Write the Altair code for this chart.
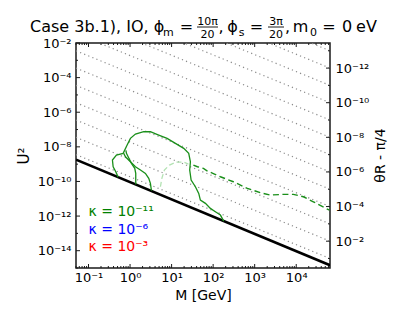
import altair as alt
import pandas as pd

# ---------------- data ----------------
x_tick_values = [1e-1, 1e0, 1e1, 1e2, 1e3, 1e4]
u2_tick_values = [1e-14, 1e-12, 1e-10, 1e-8, 1e-6, 1e-4, 1e-2]
u2_minor_values = [1e-15, 1e-13, 1e-11, 1e-9, 1e-7, 1e-5, 1e-3]
theta_tick_values = [1e-12, 1e-10, 1e-8, 1e-6, 1e-4, 1e-2]
theta_minor_values = [1e-13, 1e-11, 1e-9, 1e-7, 1e-5, 1e-3, 1e-1]

M_RANGE = [0.05, 6.5e4]
U2_RANGE = [1e-15, 1e-2]
THETA_RANGE = [10 ** -13.45, 10 ** -0.45]

# black seesaw line (log10 U^2 at the two ends of the M range)
seesaw_logM = [-1.301, 4.813]
seesaw_logU2 = [-8.74, -14.84]

# dotted lines of constant theta: log10 U^2 at left and right edge
dotted_left_exp = [3.55, 2.55, 1.55, 0.55, -0.45, -1.45, -2.45, -3.45, -4.45,
                   -5.45, -6.45, -7.45, -8.45]
dotted_right_exp = [-2.45, -3.45, -4.45, -5.45, -6.45, -7.45, -8.45, -9.45,
                    -10.45, -11.45, -12.45, -13.45, -14.45]

# kappa = 1e-11 contour, solid pieces (log10 M, log10 U^2)
outer_logM = [-0.287, -0.344, -0.407, -0.424, -0.328, -0.166, -0.070, 0.009, 0.130,
              0.329, 0.490, 0.690, 0.892, 1.092, 1.292, 1.412, 1.453, 1.436, 1.470,
              1.573, 1.653, 1.693, 1.814, 1.934, 2.054, 2.175, 2.254]
outer_logU2 = [-9.75, -9.439, -9.150, -8.763, -8.474, -8.376, -7.896, -7.509, -7.260,
               -7.127, -7.127, -7.318, -7.509, -7.798, -8.087, -8.376, -8.861, -9.341,
               -9.919, -10.306, -10.688, -11.075, -11.266, -11.555, -11.751, -11.942,
               -12.29]
innerB_logM = [-0.10, -0.087, -0.046, 0.033, 0.113, 0.137, 0.137, 0.14]
innerB_logU2 = [-8.2, -8.376, -8.572, -8.954, -9.243, -9.532, -10.017, -10.17]
innerC_logM = [-0.152, -0.111, 0.009, 0.130, 0.250, 0.370, 0.450, 0.490, 0.507, 0.52]
innerC_logU2 = [-8.376, -8.572, -8.861, -9.150, -9.341, -9.532, -9.821, -10.110,
                -10.399, -10.53]
# light dashed arc
arc_logM = [0.731, 0.767, 0.827, 0.948, 1.116, 1.284, 1.405]
arc_logU2 = [-10.306, -9.803, -9.341, -9.052, -8.878, -8.878, -8.994]
# dark dashed branch
dash_logM = [1.525, 1.621, 1.766, 1.862, 2.006, 2.175, 2.487, 2.824, 3.137, 3.378,
             3.690, 3.931, 4.172, 4.412, 4.80]
dash_logU2 = [-9.052, -9.150, -9.243, -9.398, -9.543, -9.728, -10.017, -10.399,
              -10.653, -10.786, -10.745, -10.745, -10.884, -11.173, -11.66]

legend_texts = ["κ = 10⁻¹¹", "κ = 10⁻⁶", "κ = 10⁻³"]
legend_colors = ["#008000", "#0000ff", "#ff0000"]

# ---------------- layout ----------------
W, H = 254, 225
FONT = "DejaVu Sans"
FRAME = "#1a1a1a"


def path_df(logM, logU2, seg=0):
    return pd.DataFrame({"M": [10 ** v for v in logM],
                         "U2": [10 ** v for v in logU2],
                         "o": list(range(len(logM))),
                         "seg": seg})


sup = {"-": "⁻", "−": "⁻", "0": "⁰", "1": "¹", "2": "²", "3": "³", "4": "⁴",
       "5": "⁵", "6": "⁶", "7": "⁷", "8": "⁸", "9": "⁹"}
e = "toString(round(log(datum.value)/LN10))"
for k, v in sup.items():
    e = f"replace({e}, regexp('{k}', 'g'), '{v}')"
LABEL_EXPR = "'10' + " + e

xs = alt.Scale(type="log", domain=M_RANGE, nice=False)
ys = alt.Scale(type="log", domain=U2_RANGE, nice=False)
ts = alt.Scale(type="log", domain=THETA_RANGE, nice=False, reverse=True)

xaxis = alt.Axis(values=x_tick_values, labelExpr=LABEL_EXPR, title="M [GeV]",
                 labelFontSize=13, titleFontSize=14, labelPadding=3, titlePadding=4,
                 ticks=False, domain=False, grid=False)
yaxis = alt.Axis(values=u2_tick_values, labelExpr=LABEL_EXPR, title="U²",
                 labelFontSize=13, titleFontSize=15, labelPadding=5, titlePadding=6,
                 ticks=False, domain=False, grid=False)
taxis = alt.Axis(values=theta_tick_values, labelExpr=LABEL_EXPR, title="θR - π/4",
                 orient="right", labelFontSize=13, titleFontSize=14, labelPadding=5,
                 titleAngle=270, titleX=50, titleY=112, titleAlign="center",
                 titleBaseline="middle", ticks=False, domain=False, grid=False)


def X():
    return alt.X("M:Q", scale=xs, axis=xaxis)


def Y():
    return alt.Y("U2:Q", scale=ys, axis=yaxis)


layers = []

# dotted constant-theta lines
dot_rows = []
for i, (a, b) in enumerate(zip(dotted_left_exp, dotted_right_exp)):
    dot_rows.append(path_df([-1.301, 4.813], [a, b], seg=i))
dots = pd.concat(dot_rows, ignore_index=True)
layers.append(alt.Chart(dots).mark_line(color="#8c8c8c", strokeWidth=1.2,
                                        strokeDash=[1.2, 3.2], clip=True)
              .encode(x=X(), y=Y(), detail="seg:N", order="o:Q"))

# black seesaw line
layers.append(alt.Chart(path_df(seesaw_logM, seesaw_logU2)).mark_line(
    color="black", strokeWidth=2.6, clip=True).encode(x=X(), y=Y(), order="o:Q"))

# light dashed arc
layers.append(alt.Chart(path_df(arc_logM, arc_logU2)).mark_line(
    color="#b3e2b3", strokeWidth=1.3, strokeDash=[5, 3], clip=True)
    .encode(x=X(), y=Y(), order="o:Q"))

# dark dashed branch
layers.append(alt.Chart(path_df(dash_logM, dash_logU2)).mark_line(
    color="#1a8f1a", strokeWidth=1.4, strokeDash=[6, 3.5], clip=True)
    .encode(x=X(), y=Y(), order="o:Q"))

# solid contour
solid = pd.concat([path_df(outer_logM, outer_logU2, 0),
                   path_df(innerB_logM, innerB_logU2, 1),
                   path_df(innerC_logM, innerC_logU2, 2)], ignore_index=True)
layers.append(alt.Chart(solid).mark_line(color="#1a8f1a", strokeWidth=1.3, clip=True)
              .encode(x=X(), y=Y(), detail="seg:N", order="o:Q"))

# inward ticks on bottom / top / left
x_minor_values = [m * 10 ** k for k in range(-2, 5) for m in range(2, 10)
                  if M_RANGE[0] <= m * 10 ** k <= M_RANGE[1]]
xt_major = pd.DataFrame({"M": x_tick_values})
xt_minor = pd.DataFrame({"M": x_minor_values})
for df, ln in [(xt_major, 4), (xt_minor, 2)]:
    layers.append(alt.Chart(df).mark_rule(color=FRAME, strokeWidth=1)
                  .encode(x=X(), y=alt.value(H), y2=alt.value(H - ln)))
    layers.append(alt.Chart(df).mark_rule(color=FRAME, strokeWidth=1)
                  .encode(x=X(), y=alt.value(0), y2=alt.value(ln)))
for vals, ln in [(u2_tick_values, 4), (u2_minor_values, 2)]:
    layers.append(alt.Chart(pd.DataFrame({"U2": vals})).mark_rule(color=FRAME, strokeWidth=1)
                  .encode(y=Y(), x=alt.value(0), x2=alt.value(ln)))

# text helper (annotation text in pixel space)
one = pd.DataFrame({"k": [0]})


def txt(s, x, y, size, align="left", color="black"):
    return alt.Chart(one).mark_text(text=s, align=align, baseline="alphabetic",
                                    fontSize=size, font=FONT, color=color).encode(
        x=alt.value(x), y=alt.value(y))


def bar(x1, x2, y):
    return alt.Chart(one).mark_rule(color="black", strokeWidth=0.9).encode(
        x=alt.value(x1), x2=alt.value(x2), y=alt.value(y))


# legend
for s, c, yy in zip(legend_texts, legend_colors, [173, 190.5, 207.5]):
    layers.append(txt(s, 12.5, yy, 14, color=c))

# title built from pieces (matplotlib mathtext look)
layers += [
    txt("Case 3b.1), IO, ϕ", -46, -11, 16),
    txt("m", 87, -7.5, 11),
    txt("=", 110.5, -11, 16, "center"),
    txt("10π", 131.5, -18.5, 11, "center"),
    bar(121, 142, -16),
    txt("20", 131.5, -5.5, 11, "center"),
    txt(",", 142.5, -11, 16),
    txt("ϕ", 156.5, -11, 16, "center"),
    txt("s", 165.5, -7.5, 11, "center"),
    txt("=", 180.5, -11, 16, "center"),
    txt("3π", 200, -18.5, 11, "center"),
    bar(192, 208, -16),
    txt("20", 200, -5.5, 11, "center"),
    txt(",", 209, -11, 16),
    txt("m", 224.5, -11, 16, "center"),
    txt("0", 237.5, -7.5, 11, "center"),
    txt("=", 253, -11, 16, "center"),
    txt("0", 271, -11, 16, "center"),
    txt("eV", 290.5, -11, 16, "center"),
]

main = alt.layer(*layers)

# right-hand theta axis with inward ticks
right_layers = []
for vals, ln in [(theta_tick_values, 4), (theta_minor_values, 2)]:
    right_layers.append(alt.Chart(pd.DataFrame({"th": vals})).mark_rule(color=FRAME, strokeWidth=1)
                        .encode(y=alt.Y("th:Q", scale=ts, axis=taxis),
                                x=alt.value(W), x2=alt.value(W - ln)))
right = alt.layer(*right_layers)

chart = (alt.layer(main, right)
         .resolve_scale(y="independent")
         .properties(width=W, height=H,
                     autosize=alt.AutoSizeParams(type="none"),
                     padding={"left": 68, "top": 35, "right": 69, "bottom": 50})
         .configure_view(stroke=FRAME, strokeWidth=1.5)
         .configure_axis(labelFont=FONT, titleFont=FONT, labelColor="black",
                         titleColor="black", titleFontWeight="normal"))

chart.save("out.html", embed_options={"renderer": "svg", "actions": False})
